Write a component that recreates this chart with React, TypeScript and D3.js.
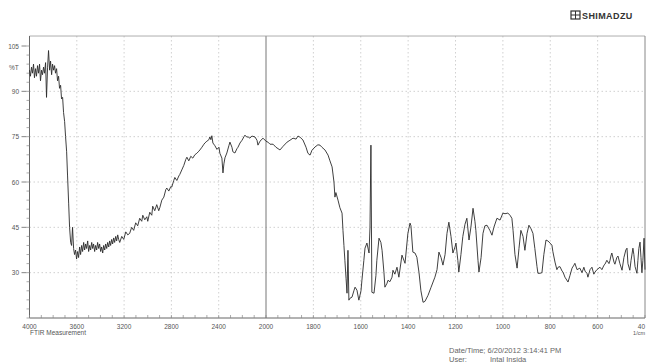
import React from "react";
import * as d3 from "d3";

const wavenumbers = [
  4000, 3992, 3983, 3975, 3966, 3958, 3949, 3941, 3932, 3924, 3915, 3907, 3898, 3890, 3881, 3873, 3864, 3856, 3847, 3839,
  3830, 3822, 3813, 3805, 3796, 3788, 3780, 3771, 3763, 3754, 3746, 3737, 3729, 3720, 3712, 3703, 3695, 3686, 3678, 3669,
  3661, 3652, 3644, 3636, 3627, 3619, 3610, 3602, 3593, 3585, 3576, 3568, 3559, 3551, 3542, 3534, 3525, 3517, 3508, 3500,
  3491, 3483, 3474, 3466, 3458, 3449, 3441, 3432, 3424, 3415, 3407, 3398, 3390, 3381, 3373, 3364, 3356, 3347, 3339, 3330,
  3322, 3314, 3305, 3297, 3288, 3280, 3271, 3263, 3254, 3246, 3237, 3220, 3203, 3186, 3169, 3153, 3136, 3119, 3102, 3085,
  3068, 3051, 3042, 3025, 3008, 3000, 2983, 2966, 2958, 2941, 2924, 2907, 2898, 2881, 2864, 2847, 2839, 2822, 2805, 2797,
  2780, 2771, 2754, 2737, 2729, 2712, 2695, 2678, 2669, 2653, 2636, 2619, 2602, 2585, 2568, 2559, 2542, 2525, 2517, 2500,
  2483, 2475, 2466, 2458, 2449, 2432, 2415, 2398, 2390, 2373, 2364, 2356, 2347, 2331, 2314, 2305, 2288, 2280, 2263, 2246,
  2237, 2220, 2203, 2186, 2178, 2161, 2153, 2136, 2119, 2093, 2076, 2068, 2051, 2025, 2000,
  1992, 1983, 1970, 1958, 1941, 1928, 1911, 1899, 1886, 1873, 1865, 1856, 1844, 1831, 1823, 1814, 1806, 1793, 1781, 1772,
  1764, 1751, 1738, 1730, 1721, 1713, 1709, 1705, 1696, 1688, 1679, 1675, 1671, 1667, 1662, 1658, 1654, 1650, 1646, 1637,
  1629, 1624, 1616, 1608, 1599, 1595, 1587, 1582, 1574, 1565, 1561, 1557, 1553, 1544, 1536, 1532, 1523, 1515, 1510, 1502,
  1498, 1489, 1485, 1477, 1468, 1464, 1456, 1447, 1439, 1426, 1413, 1401, 1392, 1388, 1380, 1371, 1363, 1354, 1346, 1337,
  1329, 1316, 1304, 1287, 1278, 1270, 1261, 1253, 1244, 1236, 1228, 1219, 1211, 1202, 1198, 1190, 1186, 1177, 1169, 1160,
  1152, 1143, 1135, 1126, 1118, 1114, 1105, 1101, 1092, 1084, 1076, 1067, 1055, 1046, 1038, 1025, 1012, 1000, 991, 979,
  970, 962, 957, 949, 940, 932, 924, 915, 907, 898, 890, 881, 873, 865, 856, 852, 843, 835, 827, 818,
  810, 801, 793, 789, 780, 772, 767, 759, 750, 746, 738, 725, 717, 708, 700, 696, 687, 675, 666, 658,
  653, 645, 641, 632, 624, 616, 611, 603, 590, 582, 573, 569, 561, 552, 548, 544, 540, 531, 527, 519,
  514, 506, 497, 489, 481, 476, 472, 464, 459, 451, 447, 442, 434, 430, 426, 421, 417, 413, 409, 404, 400,
];

const transmittance = [
  97, 95, 98, 96, 99, 94.5, 97.5, 95, 98.5, 96, 99, 93.5, 97, 95.5, 98, 96, 99.5, 88, 98, 103.5,
  97, 100, 95.5, 99, 97, 98.5, 96, 97.5, 93.5, 95, 91, 92, 87.5, 88, 83, 80, 75, 70, 62, 53,
  45, 40, 39, 45, 38, 36, 37.5, 34.5, 37, 35, 38.5, 36, 39, 37, 40, 37.5, 39.5, 38, 40.5, 37,
  39, 37.5, 40, 38, 39.5, 37, 39, 37.5, 40, 38, 39.5, 37, 38.5, 36.5, 39, 37.5, 39.5, 38, 40, 38.5,
  40.5, 39, 41, 39.5, 41.5, 40, 42, 40.5, 42.5, 41, 40, 42, 41, 43.5, 42.5, 43, 45, 44, 46.5, 45.5,
  48, 47, 49, 47.5, 48.5, 47, 50, 49, 52, 50.5, 52.5, 50.5, 51.5, 54, 55, 57.5, 58, 57, 58.5, 58.3,
  60.5, 61.5, 60.5, 62, 62.5, 64, 65.5, 67.5, 68.2, 67, 68.5, 67.9, 69, 69.5, 70.2, 70.6, 71.5, 72.5, 72.9, 73.5,
  74, 74.9, 74, 75.3, 72.9, 72, 70.8, 71.5, 69.5, 67.9, 63, 66, 68, 69.6, 72, 73.2, 71.5, 70, 69.6, 71,
  71.5, 72.9, 73.8, 75, 75.5, 74.8, 75, 74.5, 75.2, 74.9, 73.8, 72.2, 73.5, 74.5, 73.5,
  73.2, 72.5, 72.5, 71.5, 70.6, 71.8, 73.2, 73.8, 74.5, 74.2, 75.2, 74.8, 73.9, 71.5, 69.5, 68.9, 70.5, 71.6, 72.3, 72.2,
  71.5, 70.6, 68.9, 67, 65, 60, 55, 56.5, 54, 51.5, 49.7, 44, 39, 34.1, 28, 23.2, 37.4, 20.9, 21.5, 21.9,
  24, 25.2, 24.2, 20.9, 24, 27.5, 34, 38.1, 39.8, 36.5, 45, 72.2, 23.5, 23.2, 29, 34.1, 41.4, 40, 37.4, 30,
  25.2, 26.5, 27.5, 27, 28.5, 30.8, 29.5, 31.8, 28.5, 35.8, 33.1, 43, 46.4, 45.5, 36.8, 36.5, 35.1, 30, 24, 20.2,
  20.5, 22.5, 25, 28.5, 31, 36.8, 35, 32.5, 36, 43, 46.7, 42, 36.5, 38.5, 39.8, 34, 30.2, 36, 42, 46,
  48, 40.8, 45, 51.3, 47, 44, 34, 30.2, 35, 43, 45.5, 45.7, 44, 42.4, 45, 48, 47.4, 49.7, 49.5, 49.7,
  49, 48, 44, 36, 31.5, 38, 44, 42, 37.4, 43, 45.7, 44.5, 43, 38, 32, 29.8, 29.8, 30, 36, 40.8,
  40.5, 39.8, 39.1, 37, 33.5, 31, 31.8, 32, 30.5, 30.2, 28.5, 26.9, 29, 31.5, 32.5, 33.1, 31, 31.5, 30, 31.8,
  30.5, 29.8, 28.5, 31, 31.8, 29.5, 30.2, 31, 31.8, 31, 32.5, 32.8, 34.1, 33, 34, 35.5, 36.5, 33.5, 32.8, 35,
  35.5, 33, 30.8, 35, 37.5, 38.1, 33, 30.8, 34, 38.1, 36, 32, 29.8, 34, 38, 40.1, 35, 30, 34, 41.4, 31,
];

const xMajorTicks = [3600, 3200, 2800, 2400, 1800, 1600, 1400, 1200, 1000, 800, 600];
const xTickLabels = ["4000", "3600", "3200", "2800", "2400", "2000", "1800", "1600", "1400", "1200", "1000", "800", "600"];
const xTickValues = [4000, 3600, 3200, 2800, 2400, 2000, 1800, 1600, 1400, 1200, 1000, 800, 600];
const lastXLabel = "40";
const yTickValues = [105, 90, 75, 60, 45, 30];
const yGridValues = [90, 75, 60, 45, 30];

export default function App() {
  const W = 646;
  const H = 363;
  const x = d3.scaleLinear().domain([4000, 2000, 400]).range([29.5, 266, 645]);
  const y = d3.scaleLinear().domain([15, 105]).range([318, 46]);
  const top = y(108.3);
  const bottom = y(15);
  const left = x(4000);
  const right = x(400);

  const pts: [number, number][] = wavenumbers.map((w, i) => [w, transmittance[i]]);
  const line = d3
    .line<[number, number]>()
    .x((d) => x(d[0]))
    .y((d) => y(d[1]));

  const minorX: number[] = [];
  for (let w = 4000; w >= 2000; w -= 100) minorX.push(w);
  for (let w = 1950; w >= 400; w -= 50) minorX.push(w);
  const minorY: number[] = [];
  for (let t = 105; t >= 15; t -= 3) minorY.push(t);

  const font = "'Liberation Sans', Arial, sans-serif";
  const textColor = "#555";

  return (
    <svg
      width={W}
      height={H}
      style={{ position: "absolute", left: 0, top: 0, background: "#fff" }}
      fontFamily={font}
    >
      <rect x={0} y={0} width={W} height={H} fill="#fff" />
      {xMajorTicks.map((w) => (
        <line key={"gx" + w} x1={x(w)} x2={x(w)} y1={top} y2={bottom} stroke="#c4c4c4" strokeWidth={0.8} strokeDasharray="1.5,2.5" />
      ))}
      {yGridValues.map((t) => (
        <line key={"gy" + t} x1={left} x2={right} y1={y(t)} y2={y(t)} stroke="#c4c4c4" strokeWidth={0.8} strokeDasharray="1.5,2.5" />
      ))}
      <line x1={x(2000)} x2={x(2000)} y1={top} y2={bottom} stroke="#777" strokeWidth={1} />
      <line x1={left} x2={right} y1={top} y2={top} stroke="#999" strokeWidth={0.8} />
      <line x1={left} x2={left} y1={top} y2={bottom} stroke="#666" strokeWidth={1} />
      <line x1={right} x2={right} y1={top} y2={bottom} stroke="#888" strokeWidth={1} />
      <line x1={left} x2={right} y1={bottom} y2={bottom} stroke="#666" strokeWidth={1} />
      {minorX.map((w) => (
        <line key={"mx" + w} x1={x(w)} x2={x(w)} y1={bottom} y2={bottom - 3} stroke="#888" strokeWidth={0.7} />
      ))}
      {minorY.map((t) => (
        <line key={"my" + t} x1={left - 3} x2={left} y1={y(t)} y2={y(t)} stroke="#888" strokeWidth={0.7} />
      ))}
      {yTickValues.map((t) => (
        <g key={"yl" + t}>
          <line x1={left - 8} x2={left - 3} y1={y(t)} y2={y(t)} stroke="#666" strokeWidth={0.8} />
          <text x={19} y={y(t) + 2.5} fontSize={6.5} textAnchor="end" fill={textColor}>
            {t}
          </text>
        </g>
      ))}
      <text x={9} y={69.5} fontSize={6.5} fill={textColor}>%T</text>
      {xTickValues.map((w, i) => (
        <text key={"xl" + w} x={x(w)} y={328.5} fontSize={6.5} textAnchor="middle" fill={textColor}>
          {xTickLabels[i]}
        </text>
      ))}
      <text x={645} y={328.5} fontSize={6.5} textAnchor="end" fill={textColor}>{lastXLabel}</text>
      <text x={645} y={335} fontSize={5.5} textAnchor="end" fill={textColor}>1/cm</text>
      <text x={30} y={334.5} fontSize={6.5} fill={textColor}>FTIR Measurement</text>
      <path d={line(pts) || ""} fill="none" stroke="#2a2a2a" strokeWidth={0.9} strokeLinejoin="round" />
      <g>
        <rect x={571} y={11} width={9} height={8} fill="none" stroke="#333" strokeWidth={1.2} />
        <line x1={575.5} x2={575.5} y1={11} y2={19} stroke="#333" strokeWidth={1} />
        <line x1={571} x2={580} y1={15} y2={15} stroke="#333" strokeWidth={1} />
        <text x={582} y={18.5} fontSize={9} fontWeight="bold" fill="#333" letterSpacing={0.4}>SHIMADZU</text>
      </g>
      <text x={449} y={353} fontSize={7.5} fill="#666">Date/Time; 6/20/2012 3:14:41 PM</text>
      <text x={449} y={362} fontSize={7.5} fill="#666">User:</text>
      <text x={490} y={362} fontSize={7.5} fill="#666">Intal Insida</text>
    </svg>
  );
}
